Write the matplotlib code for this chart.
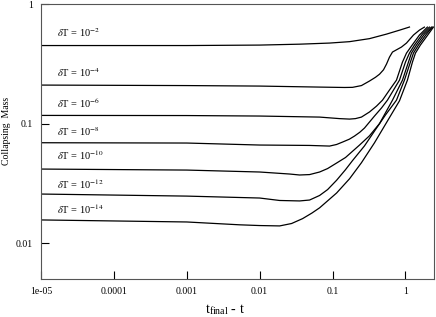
import matplotlib
matplotlib.use("Agg")
import matplotlib.pyplot as plt
import numpy as np

plt.rcParams['font.family'] = ['Liberation Serif', 'DejaVu Serif']
plt.rcParams['mathtext.fontset'] = 'stix'

# curves, one per dT
t_2 = [1e-5, 1e-3, 0.01, 0.0353, 0.091, 0.171, 0.321, 0.55, 0.828, 1.135]
m_2 = [0.450, 0.450, 0.454, 0.462, 0.472, 0.485, 0.514, 0.561, 0.605, 0.643]

t_4 = [1e-5, 1e-3, 0.01, 0.0664, 0.146, 0.188, 0.249, 0.321, 0.388, 0.441, 0.50, 0.55,
       0.604, 0.664, 0.881, 1.033, 1.288, 1.556, 1.820]
m_4 = [0.210, 0.208, 0.206, 0.202, 0.2005, 0.201, 0.208, 0.227, 0.244, 0.259, 0.282, 0.315,
       0.360, 0.397, 0.437, 0.472, 0.551, 0.606, 0.642]

t_6 = [1e-5, 1e-3, 0.01, 0.0664, 0.125, 0.171, 0.206, 0.249, 0.321, 0.401, 0.484, 0.604,
       0.753, 0.910, 1.033, 1.208, 1.556, 2.0]
m_6 = [0.117, 0.1167, 0.1156, 0.1133, 0.110, 0.109, 0.110, 0.1133, 0.125, 0.140, 0.157, 0.191,
       0.231, 0.327, 0.389, 0.445, 0.551, 0.642]

t_8 = [1e-5, 1e-3, 0.01, 0.0484, 0.091, 0.1135, 0.1371, 0.170, 0.200, 0.236, 0.274, 0.376,
       0.469, 0.566, 0.828, 1.0, 1.135, 1.327, 1.710, 2.133]
m_8 = [0.0691, 0.0687, 0.0661, 0.0656, 0.0648, 0.0668, 0.0700, 0.0740, 0.0786, 0.0845, 0.0917,
       0.1156, 0.135, 0.157, 0.231, 0.327, 0.389, 0.454, 0.561, 0.642]

t_10 = [1e-5, 1e-3, 0.01, 0.0258, 0.0353, 0.0484, 0.0664, 0.0855, 0.1135, 0.1507, 0.234,
        0.321, 0.441, 0.664, 0.910, 1.099, 1.208, 1.416, 1.820, 2.270]
m_10 = [0.0416, 0.0408, 0.0393, 0.0378, 0.0371, 0.0374, 0.0393, 0.0420, 0.0467, 0.0520, 0.066,
        0.0790, 0.100, 0.157, 0.231, 0.327, 0.389, 0.454, 0.561, 0.642]

t_12 = [1e-5, 1e-3, 0.01, 0.0188, 0.0353, 0.0484, 0.0664, 0.0855, 0.1135, 0.150, 0.188, 0.274,
        0.376, 0.532, 0.753, 0.968, 1.169, 1.288, 1.507, 1.941, 2.344]
m_12 = [0.0257, 0.0247, 0.0238, 0.0227, 0.0225, 0.0229, 0.0250, 0.0280, 0.0335, 0.0410, 0.0490,
        0.0650, 0.0865, 0.118, 0.157, 0.231, 0.327, 0.389, 0.454, 0.561, 0.642]

t_14 = [1e-5, 1e-3, 0.00532, 0.01, 0.0188, 0.0274, 0.0388, 0.0520, 0.0664, 0.1135, 0.171, 0.249,
        0.376, 0.566, 0.828, 1.064, 1.247, 1.371, 1.603, 2.065, 2.42]
m_14 = [0.0156, 0.0150, 0.0142, 0.0140, 0.0139, 0.01456, 0.0160, 0.0178, 0.0197, 0.0262, 0.0345,
        0.0470, 0.0690, 0.105, 0.155, 0.231, 0.327, 0.389, 0.454, 0.561, 0.642]

exponents = ['-2', '-4', '-6', '-8', '-10', '-12', '-14']
label_y = [0.530, 0.245, 0.135, 0.0786, 0.0495, 0.0283, 0.0175]
label_x = 1.66e-5

xticks = [1e-5, 1e-4, 1e-3, 0.01, 0.1, 1]
xticklabels = ['1e-05', '0.0001', '0.001', '0.01', '0.1', '1']
yticks = [0.01, 0.1, 1]
yticklabels = ['0.01', '0.1', '1']

fig = plt.figure(figsize=(4.36, 3.17), dpi=100)
ax = fig.add_axes([0.094, 0.120, 0.901, 0.867])

curves = [(t_2, m_2), (t_4, m_4), (t_6, m_6), (t_8, m_8), (t_10, m_10), (t_12, m_12), (t_14, m_14)]
for t, m in curves:
    ax.plot(t, m, color='black', lw=0.9)

for e, y in zip(exponents, label_y):
    ax.text(label_x, y, r'$\delta$T = 10$^{' + e + '}$', fontsize=7.5, va='baseline', ha='left')

ax.set_xscale('log')
ax.set_yscale('log')
ax.set_xlim(1e-5, 2.45)
ax.set_ylim(0.005, 1)
ax.set_xticks(xticks)
ax.set_xticklabels(xticklabels)
ax.set_yticks(yticks)
ax.set_yticklabels(yticklabels)
ax.minorticks_off()
ax.tick_params(direction='in', length=6, width=0.8, labelsize=7, pad=6)
for s in ax.spines.values():
    s.set_linewidth(0.8)
    s.set_color('#555555')

ax.set_xlabel(r'$\mathregular{t}_{\mathregular{final}}$ - t', fontsize=10, labelpad=4)
ax.xaxis.label.set_x(0.468)
ax.set_ylabel('Collapsing  Mass', fontsize=7, labelpad=3)
ax.yaxis.label.set_y(0.54)

fig.savefig('out.png', dpi=100)
